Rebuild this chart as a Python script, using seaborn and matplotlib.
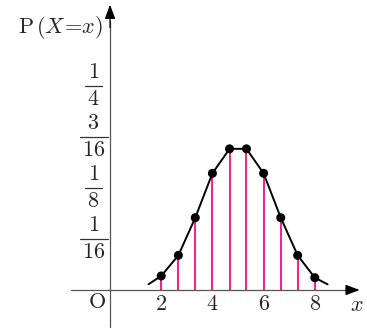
import numpy as np
import seaborn as sns
import matplotlib.pyplot as plt

sns.set_style("white")
plt.rcParams["mathtext.fontset"] = "cm"

# values
x_vals = [2, 2.67, 3.33, 4, 4.67, 5.33, 6, 6.67, 7.33, 8]
p_vals = [0.0172, 0.0425, 0.0886, 0.143, 0.173, 0.173, 0.143, 0.0886, 0.0425, 0.0151]
curve_x = [1.5] + x_vals + [8.5]
curve_p = [0.007] + p_vals + [0.007]
y_ticks = [1 / 16, 1 / 8, 3 / 16, 1 / 4]
y_nums = ["1", "1", "3", "1"]
y_dens = ["16", "8", "16", "4"]
x_ticks = [2, 4, 6, 8]

fig = plt.figure(figsize=(3.67, 3.29), dpi=100)
ax = fig.add_axes([0, 0, 1, 1])
ax.set_xlim(-4.30, 10.04)
ax.set_ylim(-0.0478, 0.3554)
ax.axis("off")

# axes with arrow heads
ax.plot([-1.52, 9.6], [0, 0], color="#555555", lw=0.9)
ax.plot([0, 0], [-0.045, 0.33], color="#555555", lw=0.9)
head = dict(arrowstyle="-|>,head_length=0.85,head_width=0.32", color="black", lw=0.9)
ax.annotate("", xy=(9.86, 0), xytext=(9.1, 0), arrowprops=head)
ax.annotate("", xy=(0, 0.353), xytext=(0, 0.318), arrowprops=head)

# stems, curve and points
ax.vlines(x_vals, 0, p_vals, color="#EC2A8A", lw=1.5, zorder=2)
sns.lineplot(x=curve_x, y=curve_p, color="black", lw=1.4, ax=ax, zorder=3)
sns.scatterplot(x=x_vals, y=p_vals, color="black", s=42, edgecolor="none", ax=ax, zorder=4)

# fraction tick labels on the y axis
fs = 16
cx = -0.645
for v, n, d in zip(y_ticks, y_nums, y_dens):
    half = 0.547 if len(d) > 1 else 0.342
    ax.plot([cx - half, cx + half], [v, v], color="#333333", lw=0.9)
    ax.text(cx, v + 0.0172, f"${n}$", ha="center", va="center", fontsize=fs)
    ax.text(cx, v - 0.0165, f"${d}$", ha="center", va="center", fontsize=fs)

for v in x_ticks:
    ax.text(v, -0.0172, f"${v}$", ha="center", va="center", fontsize=fs)
ax.text(-0.508, -0.0147, r"$\mathrm{O}$", ha="center", va="center", fontsize=fs)
ax.text(9.65, -0.0185, r"$x$", ha="center", va="center", fontsize=fs)
ax.text(-1.95, 0.3215, r"$\mathrm{P}\,(X\!=\!x)$", ha="center", va="center", fontsize=16)

fig.savefig("out.png", dpi=100)
